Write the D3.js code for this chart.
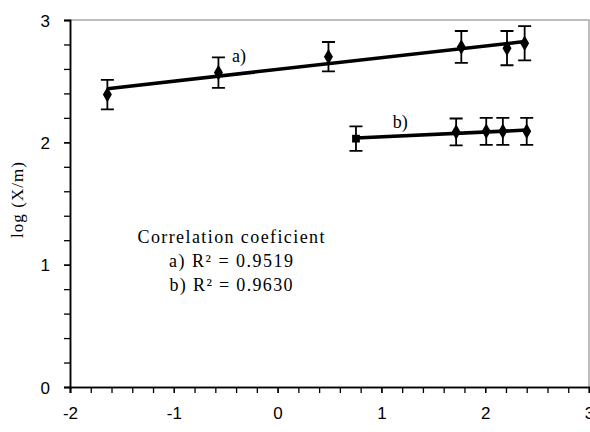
<!DOCTYPE html>
<html lang="en">
    <head>
        <meta http-equiv="Content-Type" content="text/html; charset=UTF-8">
        <title>log (X/m)</title>
        <script src="https://cdn.jsdelivr.net/npm/d3@7"></script>
        <style type="text/css">
            body {margin: 0; background: #fff; overflow: hidden;}
            .serif {font-family: "Liberation Serif", "DejaVu Serif", serif;}
            .tick text {font-family: "Liberation Sans", Arial, sans-serif; font-size: 17px; fill: #000;}
        </style>
    </head>
    <body>
        <svg width="590" height="432"></svg>
        <script>
            // series a)
            var ax = [-1.64, -0.57, 0.49, 1.77, 2.21, 2.38];
            var ay = [2.39, 2.57, 2.70, 2.78, 2.77, 2.81];
            var aErr = [0.12, 0.125, 0.12, 0.13, 0.14, 0.14];
            // series b)
            var bx = [0.755, 1.72, 2.01, 2.17, 2.40];
            var by = [2.03, 2.085, 2.09, 2.09, 2.09];
            var bErr = [0.10, 0.11, 0.11, 0.11, 0.11];

            var xTicks = [-2, -1, 0, 1, 2, 3];
            var yTicks = [0, 1, 2, 3];
            var noteLines = ['Correlation coeficient', 'a) R\u00b2 = 0.9519', 'b) R\u00b2 = 0.9630'];
            var noteWidths = [187, 124, 123];

            var pl = 70, pt = 20, pr = 589, pb = 387;
            var svg = d3.select('svg');
            var x = d3.scaleLinear().domain([-2, 3]).range([pl, pr]);
            var y = d3.scaleLinear().domain([0, 3]).range([pb, pt]);

            // frame (grey top / right)
            svg.append('path')
                .attr('d', 'M' + pl + ',' + pt + 'H' + pr + 'V' + pb)
                .attr('fill', 'none').attr('stroke', '#a8a8a8').attr('stroke-width', 1.5);

            var minorX = d3.range(-2, 3.001, 0.2);
            var minorY = d3.range(0, 3.001, 0.2);

            var gx = svg.append('g').attr('transform', 'translate(0,' + pb + ')');
            gx.call(d3.axisBottom(x).tickValues(minorX).tickSize(6).tickFormat(''));
            var gx2 = svg.append('g').attr('transform', 'translate(0,' + pb + ')');
            gx2.call(d3.axisBottom(x).tickValues(xTicks).tickSize(6).tickPadding(14).tickFormat(function(d) { return String(d); }));
            var gy = svg.append('g').attr('transform', 'translate(' + pl + ',0)');
            gy.call(d3.axisLeft(y).tickValues(minorY).tickSize(6).tickFormat(''));
            var gy2 = svg.append('g').attr('transform', 'translate(' + pl + ',0)');
            gy2.call(d3.axisLeft(y).tickValues(yTicks).tickSize(6).tickPadding(14).tickFormat(function(d) { return String(d); }));
            svg.selectAll('.domain').attr('stroke', '#000').attr('stroke-width', 1.5);
            svg.selectAll('.tick line').attr('stroke', '#000').attr('stroke-width', 1.3);
            gy2.selectAll('.tick text').attr('dy', '0.36em');

            svg.append('text').attr('class', 'serif')
                .attr('transform', 'translate(23,200) rotate(-90)')
                .attr('text-anchor', 'middle').attr('font-size', 17)
                .attr('textLength', 76).attr('lengthAdjust', 'spacing')
                .text('log (X/m)');

            function fit(xs, ys) {
                var mx = d3.mean(xs), my = d3.mean(ys);
                var sxy = d3.sum(xs, function(v, i) { return (v - mx) * (ys[i] - my); });
                var sxx = d3.sum(xs, function(v) { return (v - mx) * (v - mx); });
                var k = sxy / sxx;
                return function(v) { return my + k * (v - mx); };
            }

            function series(xs, ys, errs, marker) {
                var f = fit(xs, ys);
                var x0 = d3.min(xs), x1 = d3.max(xs);
                svg.append('line')
                    .attr('x1', x(x0)).attr('y1', y(f(x0)))
                    .attr('x2', x(x1)).attr('y2', y(f(x1)))
                    .attr('stroke', '#000').attr('stroke-width', 3.5);
                var g = svg.append('g');
                xs.forEach(function(v, i) {
                    var cx = x(v), y0 = y(ys[i] - errs[i]), y1 = y(ys[i] + errs[i]);
                    g.append('path')
                        .attr('d', 'M' + cx + ',' + y0 + 'V' + y1 +
                            'M' + (cx - 6.5) + ',' + y0 + 'H' + (cx + 6.5) +
                            'M' + (cx - 6.5) + ',' + y1 + 'H' + (cx + 6.5))
                        .attr('stroke', '#000').attr('stroke-width', 1.8).attr('fill', 'none');
                    g.append('path')
                        .attr('d', d3.symbol().type(marker(i)).size(marker(i) === d3.symbolSquare ? 60 : 70)())
                        .attr('transform', 'translate(' + cx + ',' + y(ys[i]) + ')')
                        .attr('fill', '#000');
                });
            }
            series(ax, ay, aErr, function() { return d3.symbolDiamond; });
            series(bx, by, bErr, function(i) { return i === 0 ? d3.symbolSquare : d3.symbolDiamond; });

            svg.append('text').attr('class', 'serif').attr('font-size', 18)
                .attr('x', x(-0.44)).attr('y', y(2.66)).text('a)');
            svg.append('text').attr('class', 'serif').attr('font-size', 18)
                .attr('x', x(1.11)).attr('y', y(2.12)).text('b)');

            svg.append('g').selectAll('text').data(noteLines).enter().append('text')
                .attr('class', 'serif').attr('font-size', 18)
                .attr('text-anchor', 'middle')
                .attr('x', 231)
                .attr('y', function(d, i) { return 243 + i * 24; })
                .attr('textLength', function(d, i) { return noteWidths[i]; })
                .attr('lengthAdjust', 'spacing')
                .text(function(d) { return d; });
        </script>
    </body>
</html>
